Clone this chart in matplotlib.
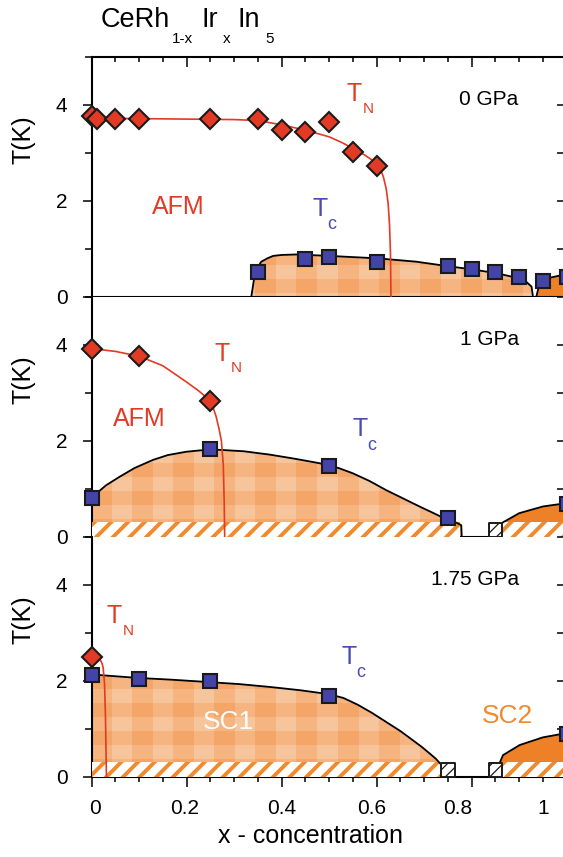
import numpy as np
import matplotlib
matplotlib.use("Agg")
import matplotlib.pyplot as plt
from matplotlib.ticker import MultipleLocator
from matplotlib.transforms import blended_transform_factory

plt.rcParams['font.family'] = ['Liberation Sans', 'DejaVu Sans']
plt.rcParams['hatch.linewidth'] = 2.8

# ---------------- data ----------------
pressures = ['0 GPa', '1 GPa', '1.75 GPa']

# T_N (diamonds)
tn_x = [[0.0, 0.012, 0.05, 0.10, 0.25, 0.35, 0.40, 0.45, 0.50, 0.55, 0.60],
        [0.0, 0.10, 0.25],
        [0.0]]
tn_t = [[3.76, 3.70, 3.70, 3.70, 3.70, 3.70, 3.47, 3.43, 3.63, 3.01, 2.73],
        [3.92, 3.76, 2.83],
        [2.50]]

# T_c (filled squares)
tc_x = [[0.35, 0.45, 0.50, 0.60, 0.75, 0.80, 0.85, 0.90, 0.95, 1.00],
        [0.0, 0.25, 0.50, 0.75, 1.00],
        [0.0, 0.10, 0.25, 0.50, 1.00]]
tc_t = [[0.52, 0.79, 0.83, 0.73, 0.63, 0.57, 0.51, 0.40, 0.32, 0.41],
        [0.81, 1.83, 1.47, 0.40, 0.68],
        [2.11, 2.03, 1.99, 1.68, 0.90]]

# no SC down to lowest T (hatched open squares)
open_x = [[], [0.85], [0.75, 0.85]]
open_t = [[], [0.14], [0.14, 0.14]]

# guide line T_N(x)
tnl_x = [[0, 0.1, 0.2, 0.3, 0.35, 0.4, 0.45, 0.5, 0.525, 0.55, 0.575, 0.6, 0.607, 0.614,
          0.62, 0.624, 0.627, 0.629, 0.63],
         [0, 0.05, 0.1, 0.15, 0.2, 0.225, 0.25, 0.256, 0.262, 0.268, 0.273, 0.277, 0.279, 0.28],
         [0, 0.009, 0.017, 0.021, 0.024, 0.027, 0.029, 0.030, 0.031]]
tnl_t = [[3.72, 3.71, 3.70, 3.69, 3.67, 3.58, 3.47, 3.33, 3.22, 3.09, 2.95, 2.78, 2.68, 2.5,
          2.25, 1.95, 1.5, 0.9, 0.0],
         [3.92, 3.86, 3.76, 3.56, 3.22, 3.04, 2.83, 2.68, 2.5, 2.25, 2.0, 1.5, 0.7, 0.0],
         [2.5, 2.49, 2.45, 2.38, 2.28, 1.94, 1.25, 0.6, 0.0]]

# SC1 dome boundary
sc1_x = [[0.336, 0.343, 0.35, 0.357, 0.37, 0.382, 0.40, 0.431, 0.50, 0.60, 0.683, 0.747,
          0.80, 0.852, 0.901, 0.915, 0.926, 0.929],
         [0.0, 0.01, 0.03, 0.059, 0.09, 0.129, 0.16, 0.199, 0.23, 0.269, 0.32, 0.375, 0.43,
          0.48, 0.52, 0.55, 0.585, 0.62, 0.655, 0.69, 0.72, 0.747, 0.768, 0.778, 0.779],
         [0.0, 0.094, 0.17, 0.248, 0.31, 0.375, 0.44, 0.499, 0.53, 0.56, 0.59, 0.62, 0.65,
          0.676, 0.695, 0.712, 0.725, 0.733, 0.745]]
sc1_t = [[0.0, 0.45, 0.62, 0.73, 0.80, 0.85, 0.87, 0.88, 0.85, 0.80, 0.73, 0.64,
          0.57, 0.49, 0.38, 0.31, 0.21, 0.0],
         [0.81, 0.9, 1.07, 1.25, 1.43, 1.6, 1.7, 1.77, 1.80, 1.81, 1.78, 1.71, 1.62,
          1.53, 1.43, 1.32, 1.16, 0.97, 0.80, 0.63, 0.49, 0.36, 0.29, 0.24, 0.0],
         [2.13, 2.06, 2.02, 1.97, 1.93, 1.87, 1.80, 1.72, 1.64, 1.50, 1.33, 1.14, 0.95,
          0.76, 0.62, 0.48, 0.37, 0.28, 0.16]]

# SC2 dome boundary
sc2_x = [[0.936, 0.943, 0.957, 0.99, 1.0],
         [0.855, 0.866, 0.90, 0.95, 1.0],
         [0.855, 0.866, 0.901, 0.95, 1.0]]
sc2_t = [[0.0, 0.28, 0.38, 0.45, 0.46],
         [0.2, 0.3, 0.49, 0.63, 0.70],
         [0.2, 0.45, 0.66, 0.82, 0.91]]

# hatched low-T band (x ranges), top at band_top
bands = [[], [(0.0, 0.776), (0.852, 1.0)], [(0.0, 0.745), (0.852, 1.0)]]
band_top = 0.3

xtick_labels = ['0', '0.2', '0.4', '0.6', '0.8', '1']
xtick_label_pos = [0.008, 0.196, 0.40, 0.59, 0.77, 0.95]

# ---------------- style ----------------
RED = '#E23A24'
BLUE = '#4343A8'
TXT_BLUE = '#4B4BB5'
SC2_COL = '#EE8027'
HATCH_COL = '#F08A2E'


def plaid(h=240, w=475):
    rows = np.arange(h)[:, None]
    cols = np.arange(w)[None, :]
    lvl = (((rows - 12) % 28) < 14).astype(int) + (((cols - 20) % 41) < 20).astype(int)
    pal = np.array([[243, 166, 104], [245, 180, 128], [247, 197, 156]]) / 255
    return pal[lvl]


fig = plt.figure(figsize=(5.63, 8.57), dpi=100)
H = 857.0
W = 563.0
left = 91.7 / W
width = 475.0 / W
tops = [56.7, 296.7, 536.7]
axes = []
for i in range(3):
    ax = fig.add_axes([left, 1 - (tops[i] + 240) / H, width, 240 / H])
    axes.append(ax)

tex = plaid()
for i, ax in enumerate(axes):
    ax.set_xlim(0, 1.0)
    ax.set_ylim(0, 5)

    # SC1 region with plaid texture
    px = sc1_x[i] + [sc1_x[i][-1], sc1_x[i][0]]
    pt = sc1_t[i] + [0, 0]
    poly = ax.fill(px, pt, facecolor='#F3A668', edgecolor='none', zorder=1)[0]
    im = ax.imshow(tex, extent=(0, 1.0, 0, 5), aspect='auto', interpolation='nearest', zorder=1.1)
    im.set_clip_path(poly)
    ax.plot(sc1_x[i], sc1_t[i], color='black', lw=1.3, zorder=4, solid_joinstyle='round')

    # SC2 region
    qx = sc2_x[i] + [1.05, 1.05, sc2_x[i][0]]
    qt = sc2_t[i] + [sc2_t[i][-1], 0, 0]
    ax.fill(qx, qt, facecolor=SC2_COL, edgecolor='none', zorder=1)
    ax.plot(sc2_x[i], sc2_t[i], color='black', lw=1.3, zorder=4, solid_joinstyle='round')

    for (x0, x1) in bands[i]:
        ax.fill_between([x0, x1], 0, band_top, facecolor='white', edgecolor=HATCH_COL,
                        hatch='//', linewidth=0, zorder=3)

    ax.plot(tnl_x[i], tnl_t[i], color=RED, lw=1.2, zorder=4.5, solid_joinstyle='round')

    ax.plot(tn_x[i], tn_t[i], linestyle='none', marker='D', ms=10.5, mfc=RED, mec='#1a1a1a',
            mew=1.5, zorder=6, clip_on=False)
    ax.plot(tc_x[i], tc_t[i], linestyle='none', marker='s', ms=9.6, mfc=BLUE, mec='#1a1a1a',
            mew=1.5, zorder=6, clip_on=False)
    if open_x[i]:
        with plt.rc_context({'hatch.linewidth': 0.9}):
            sq = ax.scatter(open_x[i], open_t[i], marker='s', s=95, facecolor='white',
                            edgecolor='#1a1a1a', hatch='///', linewidth=1.4, zorder=6, clip_on=False)
        if hasattr(sq, 'set_hatch_linewidth'):
            sq.set_hatch_linewidth(0.9)

    # axes styling
    ax.xaxis.set_major_locator(MultipleLocator(0.2))
    ax.xaxis.set_minor_locator(MultipleLocator(0.05))
    ax.yaxis.set_minor_locator(MultipleLocator(1))
    ax.tick_params(axis='x', which='major', direction='out', length=7.2, width=1.1,
                   labelbottom=False, top=False)
    ax.tick_params(axis='x', which='minor', direction='out', length=3.6, width=1.1, top=False)
    ax.tick_params(axis='y', which='major', direction='out', length=6.5, width=1.1,
                   pad=11, labelsize=15, right=False)
    ax.tick_params(axis='y', which='minor', direction='out', length=5, width=1.1, right=False)
    ax.set_yticks([0, 2, 4])
    ax.set_yticklabels(['0', '2', '4'])
    for s in ['top', 'right']:
        ax.spines[s].set_visible(False)
    for s in ['left', 'bottom']:
        ax.spines[s].set_linewidth(1.5)

    sec_y = ax.secondary_yaxis('right')
    sec_y.yaxis.set_major_locator(MultipleLocator(1))
    sec_y.tick_params(axis='y', which='both', direction='in', length=7, width=1.1, labelright=False)
    sec_y.spines['right'].set_linewidth(1.5)

    if i == 0:
        sec_x = ax.secondary_xaxis('top')
        sec_x.xaxis.set_major_locator(MultipleLocator(0.2))
        sec_x.xaxis.set_minor_locator(MultipleLocator(0.05))
        sec_x.tick_params(axis='x', which='major', direction='in', length=7.2, width=1.1, labeltop=False)
        sec_x.tick_params(axis='x', which='minor', direction='in', length=3.6, width=1.1)
        sec_x.spines['top'].set_linewidth(1.5)

    trans = blended_transform_factory(ax.transAxes, ax.transData)
    ax.text(-0.143, 3.28, 'T(K)', transform=trans, rotation=90, ha='center', va='center', fontsize=18)
    ax.text(0.899, 4.1, pressures[i], ha='right', va='center', fontsize=15)

sec_b = axes[2].secondary_xaxis('bottom')
sec_b.set_xticks(xtick_label_pos, xtick_labels)
sec_b.tick_params(axis='x', length=0, pad=16, labelsize=15)
sec_b.spines['bottom'].set_visible(False)

# ---------------- annotations ----------------
tn_lab = [(0.537, 4.22), (0.259, 3.81), (0.032, 3.34)]
tc_lab = [(0.465, 1.83), (0.549, 2.24), (0.526, 2.50)]
for i, ax in enumerate(axes):
    x, y = tn_lab[i]
    ax.text(x, y, 'T', color=RED, fontsize=18, ha='left', va='center')
    ax.annotate('N', xy=(x, y), xytext=(11.5, -10.5), textcoords='offset points',
                color=RED, fontsize=11, ha='left', va='center')
    x, y = tc_lab[i]
    ax.text(x, y, 'T', color=TXT_BLUE, fontsize=18, ha='left', va='center')
    ax.annotate('c', xy=(x, y), xytext=(10.5, -11.5), textcoords='offset points',
                color=TXT_BLUE, fontsize=13, ha='left', va='center')

axes[0].text(0.126, 1.87, 'AFM', color=RED, fontsize=18, ha='left', va='center')
axes[1].text(0.044, 2.46, 'AFM', color=RED, fontsize=18, ha='left', va='center')
axes[2].text(0.234, 1.13, 'SC1', color='white', fontsize=19, ha='left', va='center', zorder=7)
axes[2].text(0.821, 1.26, 'SC2', color='#F08A30', fontsize=19, ha='left', va='center', zorder=7)

fig.text(310 / W, 1 - 836 / H, 'x - concentration', ha='center', va='center', fontsize=18)

# title CeRh(1-x)Ir(x)In(5)
title_parts = [('CeRh', 101, 26.7, 19.5), ('1-x', 172, 43.3, 11),
               ('Ir', 202, 26.7, 19.5), ('x', 223, 43.3, 11),
               ('In', 238, 26.7, 19.5), ('5', 265, 43.3, 11)]
for txt, px_, py_, fs in title_parts:
    fig.text(px_ / W, 1 - py_ / H, txt, ha='left', va='baseline', fontsize=fs)

fig.savefig('out.png', dpi=100)
